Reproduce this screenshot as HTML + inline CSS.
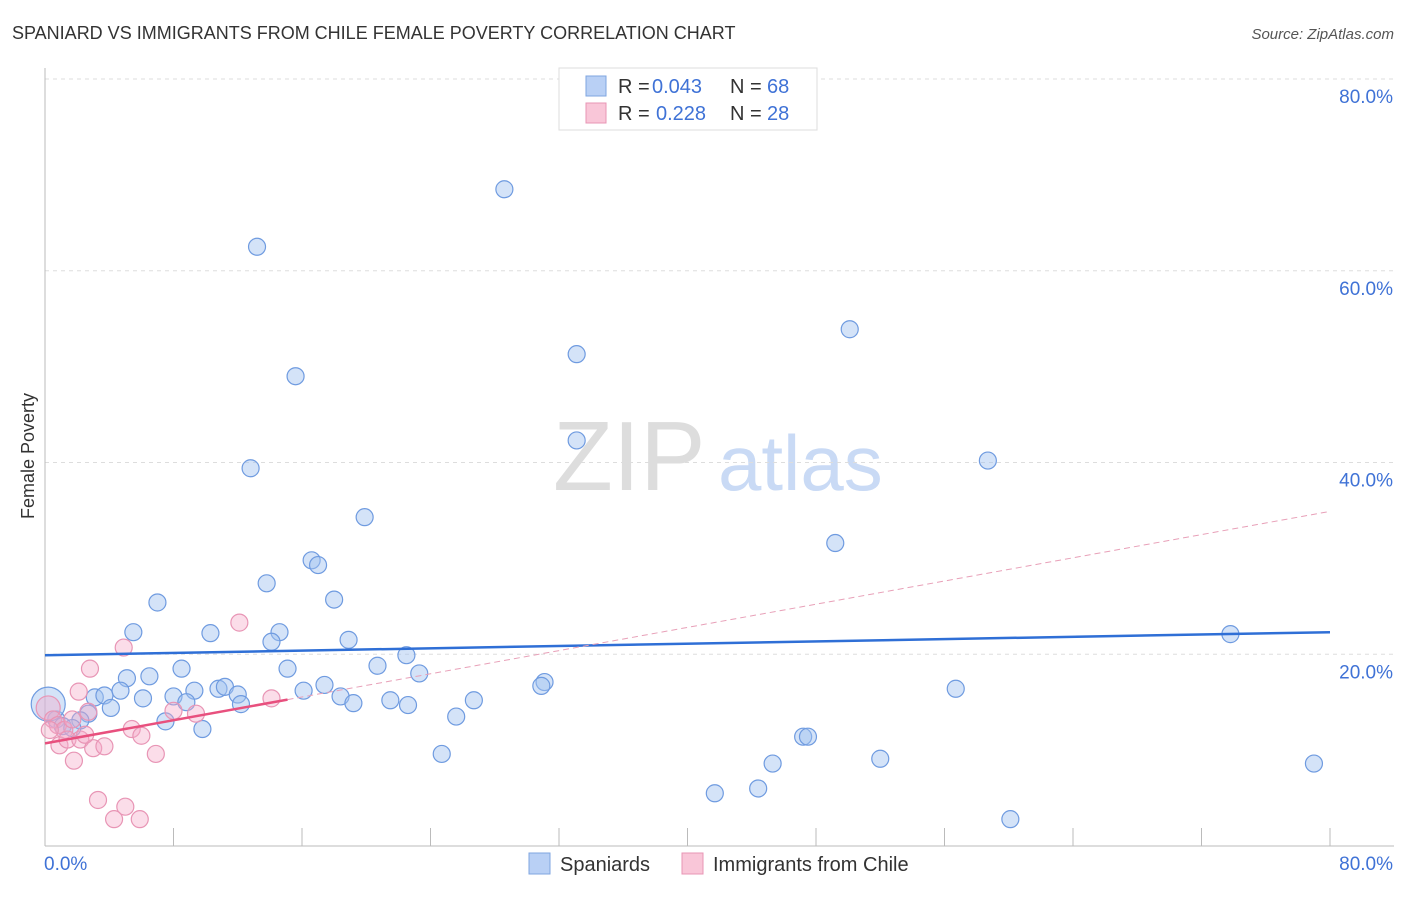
<!DOCTYPE html>
<html><head><meta charset="utf-8"><style>
body{margin:0;background:#fff;font-family:"Liberation Sans",sans-serif}
svg text{font-family:"Liberation Sans",sans-serif}
</style></head><body>
<svg width="1406" height="892" xmlns="http://www.w3.org/2000/svg" id="chart">
<text x="12" y="39" font-size="18" fill="#333">SPANIARD VS IMMIGRANTS FROM CHILE FEMALE POVERTY CORRELATION CHART</text>
<text x="1394" y="39" font-size="15" fill="#555" font-style="italic" text-anchor="end">Source: ZipAtlas.com</text>
<text x="34" y="456" font-size="18" fill="#333" transform="rotate(-90 34 456)" text-anchor="middle">Female Poverty</text>
<text x="553" y="490" font-size="98" fill="#ddd" font-family="Liberation Serif">ZIP</text>
<text x="718" y="490" font-size="78" fill="#c9daf5">atlas</text>
<g id="grid"></g><g id="axes"></g><g id="pts"></g><g id="trends"></g>
<g>
<rect x="559" y="68" width="258" height="62" fill="#fff" stroke="#ddd"/>
<rect x="586" y="76" width="20" height="20" fill="#b9d0f5" stroke="#7fa6e0"/>
<text x="618" y="93" font-size="20" fill="#333">R =</text>
<text x="652" y="93" font-size="20" fill="#3f72d6">0.043</text>
<text x="730" y="93" font-size="20" fill="#333">N =</text>
<text x="767" y="93" font-size="20" fill="#3f72d6">68</text>
<rect x="586" y="103" width="20" height="20" fill="#f9c6d8" stroke="#e895b5"/>
<text x="618" y="120" font-size="20" fill="#333">R =</text>
<text x="656" y="120" font-size="20" fill="#3f72d6">0.228</text>
<text x="730" y="120" font-size="20" fill="#333">N =</text>
<text x="767" y="120" font-size="20" fill="#3f72d6">28</text>
</g>
<g>
<rect x="529" y="853" width="21" height="21" fill="#b9d0f5" stroke="#7fa6e0"/>
<text x="560" y="871" font-size="20" fill="#333">Spaniards</text>
<rect x="682" y="853" width="21" height="21" fill="#f9c6d8" stroke="#e895b5"/>
<text x="713" y="871" font-size="20" fill="#333">Immigrants from Chile</text>
</g>
</svg>
<script>
const yTicks=[20,40,60,80];
const yTickLabels=["20.0%","40.0%","60.0%","80.0%"];
const xTickLabels=["0.0%","80.0%"];
const blueX=[28.6,13.2,15.6,33.1,50.1,33.1,58.7,12.8,19.9,49.2,16.6,17.0,13.8,18.0,7.0,5.5,10.3,14.6,14.1,18.9,73.8,22.5,8.5,15.1,20.7,5.1,6.5,23.3,31.1,30.9,3.1,3.7,4.7,6.1,8.0,9.3,10.8,11.2,12.0,12.2,16.1,17.4,18.4,19.2,21.5,22.6,26.7,56.7,4.1,8.8,2.7,2.2,0.7,1.1,1.7,7.5,9.8,25.6,24.7,47.2,47.5,45.3,52.0,79.0,41.7,44.4,60.1,0.2];
const blueY=[68.5,62.5,49.0,51.3,53.9,42.3,40.2,39.4,34.3,31.6,29.8,29.3,27.4,25.7,25.4,22.3,22.2,22.3,21.3,21.5,22.1,19.9,18.5,18.5,18.8,17.5,17.7,18.0,17.1,16.7,15.5,15.7,16.2,15.4,15.6,16.2,16.4,16.6,15.8,14.8,16.2,16.8,15.6,14.9,15.2,14.7,15.2,16.4,14.4,15.0,13.8,13.1,13.2,12.5,12.3,13.0,12.2,13.5,9.6,11.4,11.4,8.6,9.1,8.6,5.5,6.0,2.8,14.8];
const pinkX=[0.2,0.5,0.8,1.2,1.7,2.8,4.9,2.1,12.1,14.1,9.4,8.0,2.7,0.9,1.4,2.2,3.0,3.7,5.4,6.0,6.9,1.8,3.3,5.0,4.3,5.9,0.3,2.5];
const pinkY=[14.4,13.2,12.6,12.1,13.2,18.5,20.7,16.1,23.3,15.4,13.8,14.1,14.0,10.5,11.1,11.1,10.2,10.4,12.2,11.5,9.6,8.9,4.8,4.1,2.8,2.8,12.1,11.6];
const blueTrend=[19.9,22.3];
const pinkTrend=[10.7,34.9];
const pinkSolidEnd=15.1;
const X0=45,X1=1330,Y0=846,Y80=79;
const sx=v=>X0+(X1-X0)*v/80, sy=v=>Y0-(Y0-Y80)*v/80;
const NS="http://www.w3.org/2000/svg";
function mk(p,t,a){const e=document.createElementNS(NS,t);for(const k in a)e.setAttribute(k,a[k]);document.getElementById(p).appendChild(e);return e;}
yTicks.forEach((t,i)=>{
 const g=mk('grid','line',{x1:X0,x2:1394,y1:sy(t),y2:sy(t),stroke:'#ddd','stroke-dasharray':'4 4'});
 
 
 const l=mk('grid','text',{x:1393,y:sy(t)+24,'font-size':19,fill:'#3f72d6','text-anchor':'end'});l.textContent=yTickLabels[i];
 
 
});
let a=mk('axes','line',{x1:X0,x2:X0,y1:68,y2:Y0,stroke:'#bbb'});


a=mk('axes','line',{x1:X0,x2:1394,y1:Y0,y2:Y0,stroke:'#bbb'});


for(let i=1;i<=10;i++){const t=mk('axes','line',{x1:sx(i*8),x2:sx(i*8),y1:828,y2:Y0,stroke:'#bbb'});
 
 }
let xl=mk('axes','text',{x:44,y:870,'font-size':19,fill:'#3f72d6'});xl.textContent=xTickLabels[0];


xl=mk('axes','text',{x:1393,y:870,'font-size':19,fill:'#3f72d6','text-anchor':'end'});xl.textContent=xTickLabels[1];


blueX.forEach((x,i)=>{const c=mk('pts','circle',{cx:sx(x),cy:sy(blueY[i]),r:i==blueX.length-1?17:8.5,fill:'rgba(160,192,240,0.45)',stroke:'#6f9be0','stroke-width':1.2});
 
 });
pinkX.forEach((x,i)=>{const c=mk('pts','circle',{cx:sx(x),cy:sy(pinkY[i]),r:i==0?12:8.5,fill:'rgba(245,170,200,0.4)',stroke:'#e895b5','stroke-width':1.2});
 
 });
let t=mk('trends','line',{x1:sx(0),y1:sy(blueTrend[0]),x2:sx(80),y2:sy(blueTrend[1]),stroke:'#2f6fd6','stroke-width':2.5});


const pv=x=>pinkTrend[0]+(pinkTrend[1]-pinkTrend[0])*x/80;
t=mk('trends','line',{x1:sx(0),y1:sy(pv(0)),x2:sx(pinkSolidEnd),y2:sy(pv(pinkSolidEnd)),stroke:'#e8507e','stroke-width':2.5});


t=mk('trends','line',{x1:sx(pinkSolidEnd),y1:sy(pv(pinkSolidEnd)),x2:sx(80),y2:sy(pv(80)),stroke:'#e8a0b8','stroke-width':1,'stroke-dasharray':'6 4'});


</script>
</body></html>
